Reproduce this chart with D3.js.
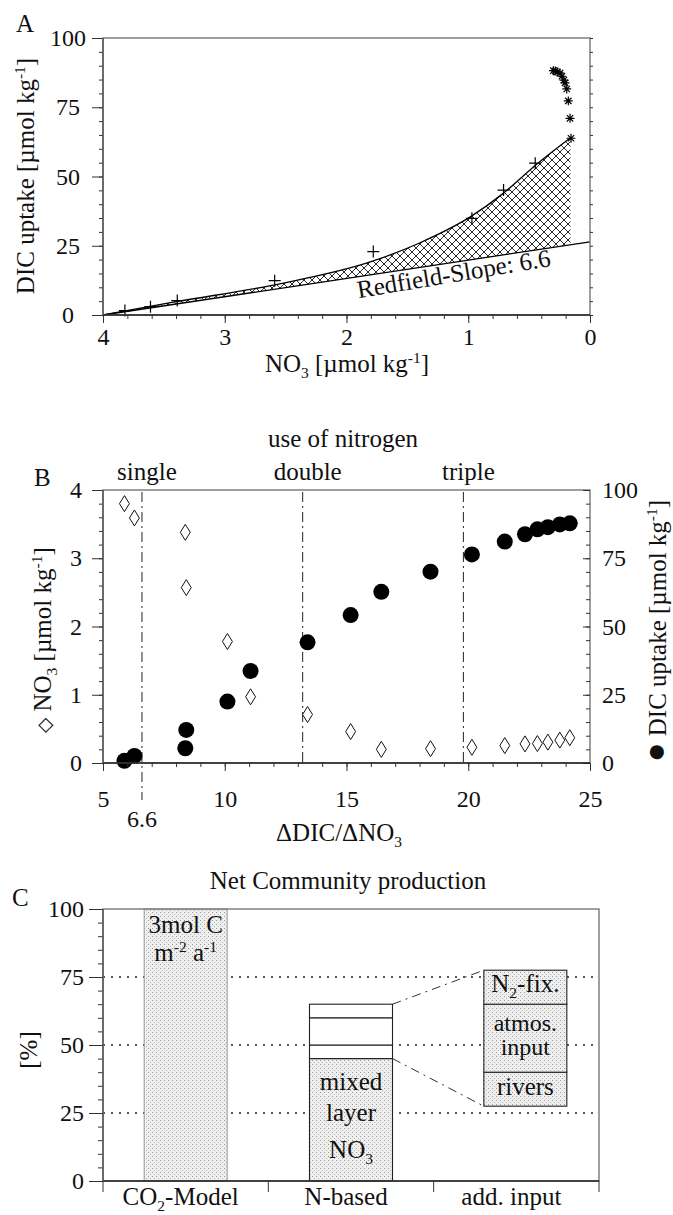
<!DOCTYPE html>
<html>
<head>
<meta charset="utf-8">
<script src="https://cdn.jsdelivr.net/npm/d3@7"></script>
<style>
  body { margin: 0; background: #fff; }
  text { font-family: "Liberation Serif", "Times New Roman", serif; fill: #111; }
</style>
</head>
<body>
<svg width="673" height="1215"></svg>
<script>
// ---- panel A: DIC uptake vs NO3 ----
const curveNO3 = [4.0, 3.4, 2.6, 1.78, 1.4, 0.98, 0.71, 0.45, 0.16];
const curveDIC = [0.0, 4.8, 10.8, 19.5, 26.0, 35.5, 44.0, 54.0, 64.0];
const plusNO3 = [3.82, 3.61, 3.39, 2.59, 1.78, 0.97, 0.71, 0.45];
const plusDIC = [1.6, 3.0, 5.2, 12.4, 22.9, 34.9, 45.1, 54.8];
const starNO3 = [0.156, 0.164, 0.178, 0.191, 0.205, 0.214, 0.23, 0.246, 0.27, 0.285, 0.301];
const starDIC = [63.8, 71.0, 77.3, 81.6, 83.8, 84.8, 86.2, 87.3, 87.8, 88.1, 88.2];
const redfield = 6.6;
const no3Start = 4.0;
const aXTicks = [4, 3, 2, 1, 0];
const percentTicks = [0, 25, 50, 75, 100];

// ---- panel B: NO3 and DIC uptake vs dDIC/dNO3 ----
const ratio = [5.88, 6.29, 8.38, 8.42, 10.11, 11.06, 13.40, 15.17, 16.43, 18.45, 20.15, 21.50, 22.33, 22.84, 23.27, 23.76, 24.17];
const bNO3 = [3.80, 3.59, 3.38, 2.57, 1.78, 0.97, 0.71, 0.46, 0.20, 0.21, 0.23, 0.255, 0.28, 0.285, 0.305, 0.335, 0.37];
const bDIC = [0.8, 2.6, 5.4, 12.1, 22.5, 33.7, 44.2, 54.2, 62.7, 70.1, 76.4, 81.1, 83.8, 85.6, 86.4, 87.4, 87.8];
const nitrogenUse = ["single", "double", "triple"];
const nitrogenRatio = [6.6, 13.2, 19.8];
const bXTicks = [5, 10, 15, 20, 25];
const bNO3Ticks = [0, 1, 2, 3, 4];

// ---- panel C: net community production ----
const categories = ["CO2-Model", "N-based", "add. input"];
const co2Model = 100;
const nParts = ["mixed", "rivers", "atmos", "n2fix"];
const nValues = [45, 5, 10, 5];
const addBase = 27.5;
const addZoom = 2.5;

const serif = '"Liberation Serif", "Times New Roman", serif';
const svg = d3.select("svg");
const defs = svg.append("defs");

const hatch = defs.append("pattern").attr("id", "hatch")
  .attr("patternUnits", "userSpaceOnUse").attr("width", 8).attr("height", 8);
hatch.append("path").attr("d", "M0,0L8,8M8,0L0,8M-1,7L1,9M7,-1L9,1M-1,1L1,-1M7,9L9,7")
  .attr("stroke", "#111").attr("stroke-width", 0.9);

const stip = defs.append("pattern").attr("id", "stip")
  .attr("patternUnits", "userSpaceOnUse").attr("width", 4).attr("height", 4);
stip.append("rect").attr("width", 4).attr("height", 4).attr("fill", "#efefef");
stip.append("rect").attr("width", 1).attr("height", 1).attr("fill", "#999");
stip.append("rect").attr("x", 2).attr("y", 2).attr("width", 1).attr("height", 1).attr("fill", "#b8b8b8");

// text with sub/superscripts: parts = [[string, null|"sub"|"sup"|"lg"|"sm"], ...]
function rich(t, parts) {
  let shift = 0;
  parts.forEach(([s, kind]) => {
    const want = kind === "sub" ? 6 : kind === "sup" ? -9 : 0;
    const ts = t.append("tspan").text(s).attr("dy", want - shift);
    if (kind === "sub" || kind === "sup") ts.attr("font-size", "0.62em");
    if (kind === "lg") ts.attr("font-size", "1.3em");
    if (kind === "sm") ts.attr("font-size", "0.8em");
    shift = want;
  });
  return t;
}

function label(g, x, y, size, anchor, parts, rot) {
  const t = g.append("text").attr("font-size", size).attr("text-anchor", anchor)
    .attr("transform", `translate(${x},${y})` + (rot ? ` rotate(${rot})` : ""));
  return rich(t, parts);
}

function styleAxis(g, size) {
  g.attr("font-family", serif).attr("font-size", size);
  g.selectAll("text").attr("fill", "#111");
  g.selectAll("line").attr("stroke", "#333");
  g.select(".domain").remove();
}

const cross8 = { draw(ctx, size) {
  const r = Math.sqrt(size) / 2;
  for (let k = 0; k < 4; k++) {
    const a = k * Math.PI / 4;
    ctx.moveTo(r * Math.cos(a), r * Math.sin(a));
    ctx.lineTo(-r * Math.cos(a), -r * Math.sin(a));
  }
}};
const plus = { draw(ctx, size) {
  const r = Math.sqrt(size) / 2;
  ctx.moveTo(-r, 0); ctx.lineTo(r, 0);
  ctx.moveTo(0, -r); ctx.lineTo(0, r);
}};
const tallDiamond = { draw(ctx, size) {
  const h = Math.sqrt(size) / 2, w = h * 0.62;
  ctx.moveTo(0, -h); ctx.lineTo(w, 0); ctx.lineTo(0, h); ctx.lineTo(-w, 0); ctx.closePath();
}};

// ================= Panel A =================
const xA = d3.scaleLinear().domain([4, 0]).range([103, 590]);
const yA = d3.scaleLinear().domain([0, 100]).range([315, 38]);
const gA = svg.append("g");

const curvePts = curveNO3.map((n, i) => ({ n, d: curveDIC[i] }));
gA.append("path").datum(curvePts)
  .attr("d", d3.area().x(p => xA(p.n)).y0(p => yA(redfield * (no3Start - p.n))).y1(p => yA(p.d)).curve(d3.curveMonotoneX))
  .attr("fill", "url(#hatch)");
gA.append("path").datum(curvePts)
  .attr("d", d3.line().x(p => xA(p.n)).y(p => yA(p.d)).curve(d3.curveMonotoneX))
  .attr("fill", "none").attr("stroke", "#000").attr("stroke-width", 1.3);
gA.append("line")
  .attr("x1", xA(no3Start)).attr("y1", yA(0))
  .attr("x2", xA(0)).attr("y2", yA(redfield * no3Start))
  .attr("stroke", "#000").attr("stroke-width", 1.3);

gA.selectAll(".plus").data(plusNO3).join("path").attr("class", "plus")
  .attr("transform", (n, i) => `translate(${xA(n)},${yA(plusDIC[i])})`)
  .attr("d", d3.symbol(plus, 144)).attr("stroke", "#000").attr("stroke-width", 1.2).attr("fill", "none");
gA.selectAll(".star").data(starNO3).join("path").attr("class", "star")
  .attr("transform", (n, i) => `translate(${xA(n)},${yA(starDIC[i])})`)
  .attr("d", d3.symbol(cross8, 80)).attr("stroke", "#000").attr("stroke-width", 1.2).attr("fill", "none");

// frame + axes
gA.append("rect").attr("x", 103).attr("y", 38).attr("width", 487).attr("height", 277)
  .attr("fill", "none").attr("stroke", "#777").attr("stroke-width", 1.4);
gA.append("g").attr("transform", "translate(103,0)")
  .call(d3.axisLeft(yA).tickValues(d3.range(0, 101, 5)).tickSize(4).tickFormat("")).call(g => styleAxis(g, 24));
gA.append("g").attr("transform", "translate(590,0)")
  .call(d3.axisLeft(yA).tickValues(d3.range(0, 101, 5)).tickSize(-3).tickFormat("")).call(g => styleAxis(g, 24));
gA.append("g").attr("transform", "translate(103,0)")
  .call(d3.axisLeft(yA).tickValues(percentTicks).tickSize(11).tickPadding(4)).call(g => styleAxis(g, 24))
  .call(g => g.selectAll("text").attr("text-anchor", "middle").attr("x", -35));
gA.append("g").attr("transform", "translate(0,315)")
  .call(d3.axisBottom(xA).tickValues(d3.range(0, 4.01, 0.2)).tickSize(4).tickFormat("")).call(g => styleAxis(g, 24));
gA.append("g").attr("transform", "translate(0,315)")
  .call(d3.axisBottom(xA).tickValues(aXTicks).tickSize(8).tickPadding(5).tickFormat(d3.format("d"))).call(g => styleAxis(g, 24));
gA.append("line").attr("x1", 103).attr("x2", 590).attr("y1", 315).attr("y2", 315).attr("stroke", "#222").attr("stroke-width", 1.4);
gA.append("line").attr("x1", 103).attr("x2", 103).attr("y1", 38).attr("y2", 315).attr("stroke", "#555").attr("stroke-width", 1.4);

label(gA, 16, 32, 25, "start", [["A", null]]);
label(gA, 347, 372, 25, "middle", [["NO", null], ["3", "sub"], [" [µmol kg", null], ["-1", "sup"], ["]", null]]);
label(gA, 34, 176, 25, "middle", [["DIC uptake [µmol kg", null], ["-1", "sup"], ["]", null]], -90);
label(gA, 455, 282, 25, "middle", [["Redfield-Slope: " + redfield, null]], -9.5);

// ================= Panel B =================
const xB = d3.scaleLinear().domain([5, 25]).range([103, 590]);
const yBL = d3.scaleLinear().domain([0, 4]).range([763, 490]);
const yBR = d3.scaleLinear().domain([0, 100]).range([763, 490]);
const gB = svg.append("g");

gB.selectAll(".use").data(nitrogenRatio).join("line").attr("class", "use")
  .attr("x1", r => xB(r)).attr("x2", r => xB(r))
  .attr("y1", 492).attr("y2", (r, i) => i === 0 ? 800 : 763)
  .attr("stroke", "#222").attr("stroke-width", 1).attr("stroke-dasharray", "10,4,2,4");

gB.selectAll(".dot").data(ratio).join("circle").attr("class", "dot")
  .attr("cx", r => xB(r)).attr("cy", (r, i) => yBR(bDIC[i])).attr("r", 8).attr("fill", "#000");
gB.selectAll(".dia").data(ratio).join("path").attr("class", "dia")
  .attr("transform", (r, i) => `translate(${xB(r)},${yBL(bNO3[i])})`)
  .attr("d", d3.symbol(tallDiamond, 256)).attr("fill", "#fff").attr("stroke", "#111").attr("stroke-width", 1);

gB.append("rect").attr("x", 103).attr("y", 490).attr("width", 487).attr("height", 273)
  .attr("fill", "none").attr("stroke", "#777").attr("stroke-width", 1.4);
gB.append("g").attr("transform", "translate(103,0)")
  .call(d3.axisLeft(yBL).tickValues(d3.range(0, 4.01, 0.2)).tickSize(4).tickFormat("")).call(g => styleAxis(g, 24));
gB.append("g").attr("transform", "translate(103,0)")
  .call(d3.axisLeft(yBL).tickValues(bNO3Ticks).tickSize(11).tickPadding(10).tickFormat(d3.format("d"))).call(g => styleAxis(g, 24));
gB.append("g").attr("transform", "translate(590,0)")
  .call(d3.axisRight(yBR).tickValues(d3.range(0, 101, 5)).tickSize(-4).tickFormat("")).call(g => styleAxis(g, 24));
gB.append("g").attr("transform", "translate(590,0)")
  .call(d3.axisRight(yBR).tickValues(percentTicks).tickSize(-7).tickPadding(12)).call(g => styleAxis(g, 24));
gB.append("g").attr("transform", "translate(0,763)")
  .call(d3.axisBottom(xB).tickValues(d3.range(5, 25.01, 1)).tickSize(4).tickFormat("")).call(g => styleAxis(g, 24));
gB.append("g").attr("transform", "translate(0,763)")
  .call(d3.axisBottom(xB).tickValues(bXTicks).tickSize(8).tickPadding(19)).call(g => styleAxis(g, 24));
gB.append("line").attr("x1", 103).attr("x2", 590).attr("y1", 763).attr("y2", 763).attr("stroke", "#222").attr("stroke-width", 1.4);
gB.append("line").attr("x1", 103).attr("x2", 103).attr("y1", 490).attr("y2", 763).attr("stroke", "#555").attr("stroke-width", 1.4);

label(gB, xB(redfield), 827, 24, "middle", [[String(redfield), null]]);
label(gB, 339, 841, 25, "middle", [["ΔDIC/ΔNO", null], ["3", "sub"]]);
label(gB, 343, 447, 25, "middle", [["use of nitrogen", null]]);
nitrogenUse.forEach((s, i) => label(gB, xB(nitrogenRatio[i]) + 5, 480, 25, "middle", [[s, null]]));
label(gB, 34, 486, 25, "start", [["B", null]]);
label(gB, 51, 640, 25, "middle", [["◇", "sm"], [" NO", null], ["3", "sub"], [" [µmol kg", null], ["-1", "sup"], ["]", null]], -90);
label(gB, 666, 631, 25, "middle", [["●", "lg"], [" DIC uptake [µmol kg", null], ["-1", "sup"], ["]", null]], -90);

// ================= Panel C =================
const xC = d3.scaleBand().domain(categories).range([103, 599]);
const yC = d3.scaleLinear().domain([0, 100]).range([1181, 909]);
const gC = svg.append("g");
const bw = xC.bandwidth();
const barW = 83;

gC.selectAll(".grid").data([25, 50, 75]).join("line").attr("class", "grid")
  .attr("x1", 103).attr("x2", 599).attr("y1", d => yC(d)).attr("y2", d => yC(d))
  .attr("stroke", "#222").attr("stroke-width", 1.3).attr("stroke-dasharray", "2,6");

// CO2 model bar
const co2X = xC(categories[0]) + bw / 2 - barW / 2;
gC.append("rect").attr("x", co2X).attr("y", yC(co2Model)).attr("width", barW)
  .attr("height", yC(0) - yC(co2Model)).attr("fill", "url(#stip)").attr("stroke", "#999").attr("stroke-width", 1);

// N-based stack
const nX = xC(categories[1]) + bw / 2 - barW / 2;
const nStack = nValues.map((v, i) => ({ key: nParts[i], lo: d3.sum(nValues.slice(0, i)), hi: d3.sum(nValues.slice(0, i + 1)) }));
gC.selectAll(".nseg").data(nStack).join("rect").attr("class", "nseg")
  .attr("x", nX).attr("width", barW)
  .attr("y", d => yC(d.hi)).attr("height", d => yC(d.lo) - yC(d.hi))
  .attr("fill", d => d.key === "mixed" ? "url(#stip)" : "#fff")
  .attr("stroke", "#222").attr("stroke-width", 1.1);

// additional input, magnified
const addX = xC(categories[2]) + bw / 2 - barW / 2 + 9;
const addStack = nStack.slice(1).map(d => ({ key: d.key, lo: addBase + (d.lo - nValues[0]) * addZoom, hi: addBase + (d.hi - nValues[0]) * addZoom }));
gC.selectAll(".aseg").data(addStack).join("rect").attr("class", "aseg")
  .attr("x", addX).attr("width", barW)
  .attr("y", d => yC(d.hi)).attr("height", d => yC(d.lo) - yC(d.hi))
  .attr("fill", "url(#stip)").attr("stroke", "#222").attr("stroke-width", 1.1);

const nTop = d3.sum(nValues);
[[nTop, addStack[addStack.length - 1].hi], [nValues[0], addStack[0].lo]].forEach(([a, b]) => {
  gC.append("line").attr("x1", nX + barW).attr("y1", yC(a)).attr("x2", addX).attr("y2", yC(b))
    .attr("stroke", "#333").attr("stroke-width", 1).attr("stroke-dasharray", "9,5,2,5");
});

// frame + axes
gC.append("rect").attr("x", 103).attr("y", 909).attr("width", 496).attr("height", 272)
  .attr("fill", "none").attr("stroke", "#777").attr("stroke-width", 1.4);
gC.append("g").attr("transform", "translate(103,0)")
  .call(d3.axisLeft(yC).tickValues(d3.range(0, 101, 5)).tickSize(5).tickFormat("")).call(g => styleAxis(g, 24));
gC.append("g").attr("transform", "translate(103,0)")
  .call(d3.axisLeft(yC).tickValues(percentTicks).tickSize(14).tickPadding(5)).call(g => styleAxis(g, 24));
gC.append("line").attr("x1", 103).attr("x2", 599).attr("y1", 1181).attr("y2", 1181).attr("stroke", "#222").attr("stroke-width", 1.4);
gC.append("line").attr("x1", 103).attr("x2", 103).attr("y1", 909).attr("y2", 1181).attr("stroke", "#555").attr("stroke-width", 1.4);
gC.selectAll(".sep").data(categories.map(c => xC(c)).concat([xC.range()[1]])).join("line").attr("class", "sep")
  .attr("x1", d => d).attr("x2", d => d).attr("y1", 1181).attr("y2", 1192).attr("stroke", "#333");

const catParts = [
  [["CO", null], ["2", "sub"], ["-Model", null]],
  [["N-based", null]],
  [["add. input", null]]
];
categories.forEach((c, i) => label(gC, xC(c) + bw / 2 - 5, 1205, 25, "middle", catParts[i]));

label(gC, 348, 889, 25, "middle", [["Net Community production", null]]);
label(gC, 12, 906, 25, "start", [["C", null]]);
label(gC, 37, 1050, 25, "middle", [["[%]", null]], -90);

const co2C = co2X + barW / 2;
label(gC, co2C, 933, 25, "middle", [["3mol C", null]]);
label(gC, co2C, 961, 25, "middle", [["m", null], ["-2", "sup"], [" a", null], ["-1", "sup"]]);

const nC = nX + barW / 2;
label(gC, nC, 1090, 25, "middle", [["mixed", null]]);
label(gC, nC, 1121, 25, "middle", [["layer", null]]);
label(gC, nC, 1158, 25, "middle", [["NO", null], ["3", "sub"]]);

const aC = addX + barW / 2;
label(gC, aC, 992, 25, "middle", [["N", null], ["2", "sub"], ["-fix.", null]]);
label(gC, aC, 1031, 24, "middle", [["atmos.", null]]);
label(gC, aC, 1055, 24, "middle", [["input", null]]);
label(gC, aC, 1095, 25, "middle", [["rivers", null]]);
</script>
</body>
</html>
